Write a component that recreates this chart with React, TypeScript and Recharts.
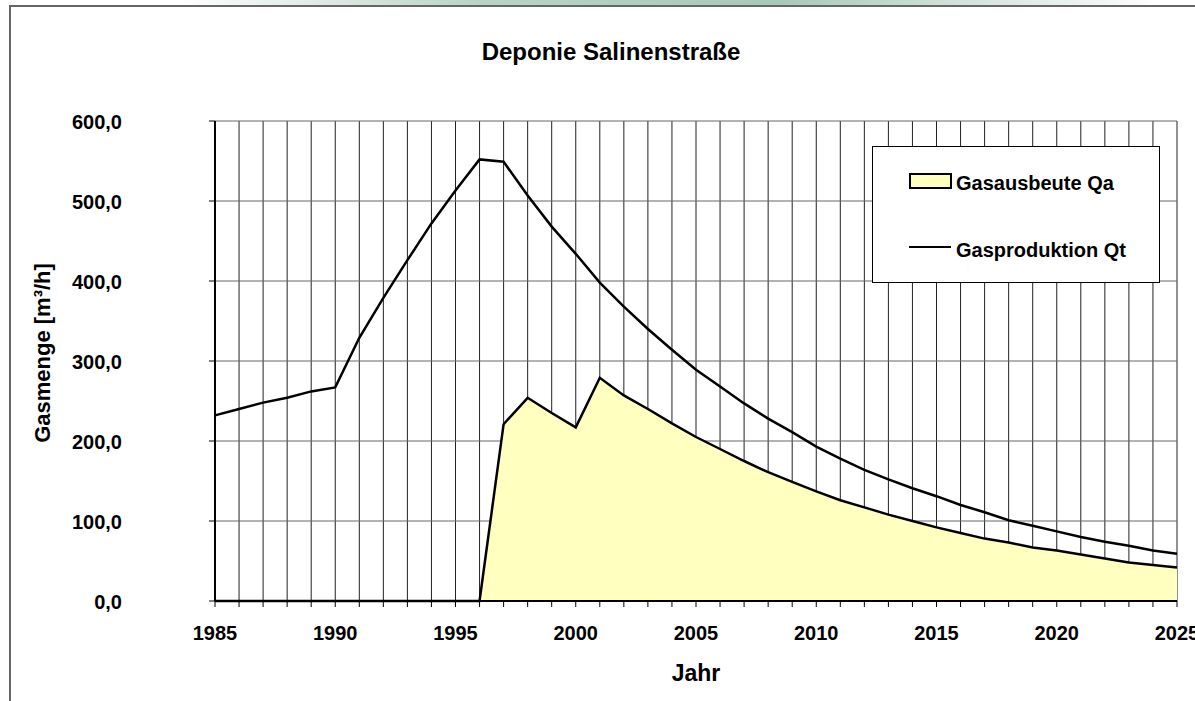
import React from 'react';
import {
  ComposedChart,
  Area,
  Line,
  XAxis,
  YAxis,
  CartesianGrid,
} from 'recharts';

// Jahre (Kategorien)
const years = [
  1985, 1986, 1987, 1988, 1989, 1990, 1991, 1992, 1993, 1994,
  1995, 1996, 1997, 1998, 1999, 2000, 2001, 2002, 2003, 2004,
  2005, 2006, 2007, 2008, 2009, 2010, 2011, 2012, 2013, 2014,
  2015, 2016, 2017, 2018, 2019, 2020, 2021, 2022, 2023, 2024,
  2025,
];

// Gasproduktion Qt [m³/h]
const gasproduktionQt = [
  232, 240, 248, 254, 262, 267, 329, 379, 426, 472,
  513, 552, 549, 507, 468, 434, 398, 368, 340, 314,
  289, 268, 247, 228, 211, 193, 178, 164, 152, 141,
  131, 120, 111, 101, 94, 87, 80, 74, 69, 63,
  59,
];

// Gasausbeute Qa [m³/h]
const gasausbeuteQa = [
  0, 0, 0, 0, 0, 0, 0, 0, 0, 0,
  0, 0, 221, 254, 235, 217, 279, 257, 240, 222,
  205, 190, 175, 161, 149, 137, 126, 117, 108, 100,
  92, 85, 78, 73, 67, 63, 58, 53, 48, 45,
  42,
];

const yTicks = [0, 100, 200, 300, 400, 500, 600];

const data = years.map((year, i) => ({
  year,
  qt: gasproduktionQt[i],
  qa: gasausbeuteQa[i],
}));

const FONT = '"Liberation Sans", Arial, sans-serif';

// Jahresbeschriftung nur alle 5 Jahre
const XTick = ({ x, y, payload }: any) => {
  if (payload.value % 5 !== 0) return <g />;
  return (
    <text
      x={x}
      y={y + 24}
      textAnchor="middle"
      dominantBaseline="central"
      fontFamily={FONT}
      fontWeight="bold"
      fontSize={20}
      fill="#000"
    >
      {payload.value}
    </text>
  );
};

const YTick = ({ x, y, payload }: any) => (
  <text
    x={x - 85}
    y={y + 1}
    textAnchor="end"
    dominantBaseline="central"
    fontFamily={FONT}
    fontWeight="bold"
    fontSize={20}
    fill="#000"
  >
    {payload.value.toFixed(1).replace('.', ',')}
  </text>
);

export default function App() {
  return (
    <div
      style={{
        position: 'absolute',
        left: 0,
        top: 0,
        width: 1195,
        height: 701,
        overflow: 'hidden',
        background: '#fff',
        fontFamily: FONT,
      }}
    >
      {/* Rahmen oben mit Verlauf */}
      <div
        style={{
          position: 'absolute',
          left: 0,
          top: 0,
          width: 1195,
          height: 5,
          background:
            'linear-gradient(to right, #fff 15%, #b9d4c6 40%, #a7c9b8 65%, #fff 97%)',
        }}
      />
      <div
        style={{
          position: 'absolute',
          left: 9,
          top: 5,
          width: 1200,
          height: 720,
          borderLeft: '2px solid #666',
          borderTop: '2px solid #666',
        }}
      />

      <div
        style={{
          position: 'absolute',
          left: 0,
          width: 1222,
          top: 38,
          textAlign: 'center',
          fontWeight: 'bold',
          fontSize: 24,
          lineHeight: '28px',
        }}
      >
        Deponie Salinenstraße
      </div>

      <div style={{ position: 'absolute', left: 0, top: 0 }}>
        <ComposedChart
          width={1195}
          height={701}
          data={data}
          margin={{ top: 121, right: 18, bottom: 0, left: 0 }}
        >
          <CartesianGrid horizontal={false} stroke="#222" strokeWidth={1} />
          <CartesianGrid vertical={false} stroke="#666" strokeWidth={1} />
          <XAxis
            dataKey="year"
            type="number"
            domain={[1985, 2025]}
            ticks={years}
            interval={0}
            height={100}
            tick={<XTick />}
            tickLine={{ stroke: '#000' }}
            axisLine={{ stroke: '#000', strokeWidth: 2 }}
          />
          <YAxis
            type="number"
            domain={[0, 600]}
            ticks={yTicks}
            width={215}
            tick={<YTick />}
            tickLine={{ stroke: '#000' }}
            axisLine={{ stroke: '#000', strokeWidth: 2 }}
          />
          <Area
            type="linear"
            dataKey="qa"
            fill="#ffffc0"
            fillOpacity={1}
            stroke="#000"
            strokeWidth={2.5}
            isAnimationActive={false}
          />
          <Line
            type="linear"
            dataKey="qt"
            stroke="#000"
            strokeWidth={2.5}
            dot={false}
            isAnimationActive={false}
          />
        </ComposedChart>
      </div>

      {/* Achsentitel */}
      <div
        style={{
          position: 'absolute',
          left: 43,
          top: 353,
          transform: 'translate(-50%, -50%) rotate(-90deg)',
          whiteSpace: 'nowrap',
          fontWeight: 'bold',
          fontSize: 22,
        }}
      >
        Gasmenge [m³/h]
      </div>
      <div
        style={{
          position: 'absolute',
          left: 696,
          top: 673,
          transform: 'translate(-50%, -50%)',
          whiteSpace: 'nowrap',
          fontWeight: 'bold',
          fontSize: 23,
        }}
      >
        Jahr
      </div>

      {/* Legende */}
      <div
        style={{
          position: 'absolute',
          left: 872,
          top: 146,
          width: 286,
          height: 135,
          background: '#fff',
          border: '1px solid #000',
          fontWeight: 'bold',
          fontSize: 20,
        }}
      >
        <div style={{ position: 'absolute', left: 36, top: 26, width: 39, height: 12, background: '#ffffc0', border: '2px solid #000' }} />
        <div style={{ position: 'absolute', left: 83, top: 24, whiteSpace: 'nowrap', lineHeight: '24px' }}>
          Gasausbeute Qa
        </div>
        <div style={{ position: 'absolute', left: 36, top: 99, width: 42, height: 2, background: '#000' }} />
        <div style={{ position: 'absolute', left: 83, top: 91, whiteSpace: 'nowrap', lineHeight: '24px' }}>
          Gasproduktion Qt
        </div>
      </div>
    </div>
  );
}
